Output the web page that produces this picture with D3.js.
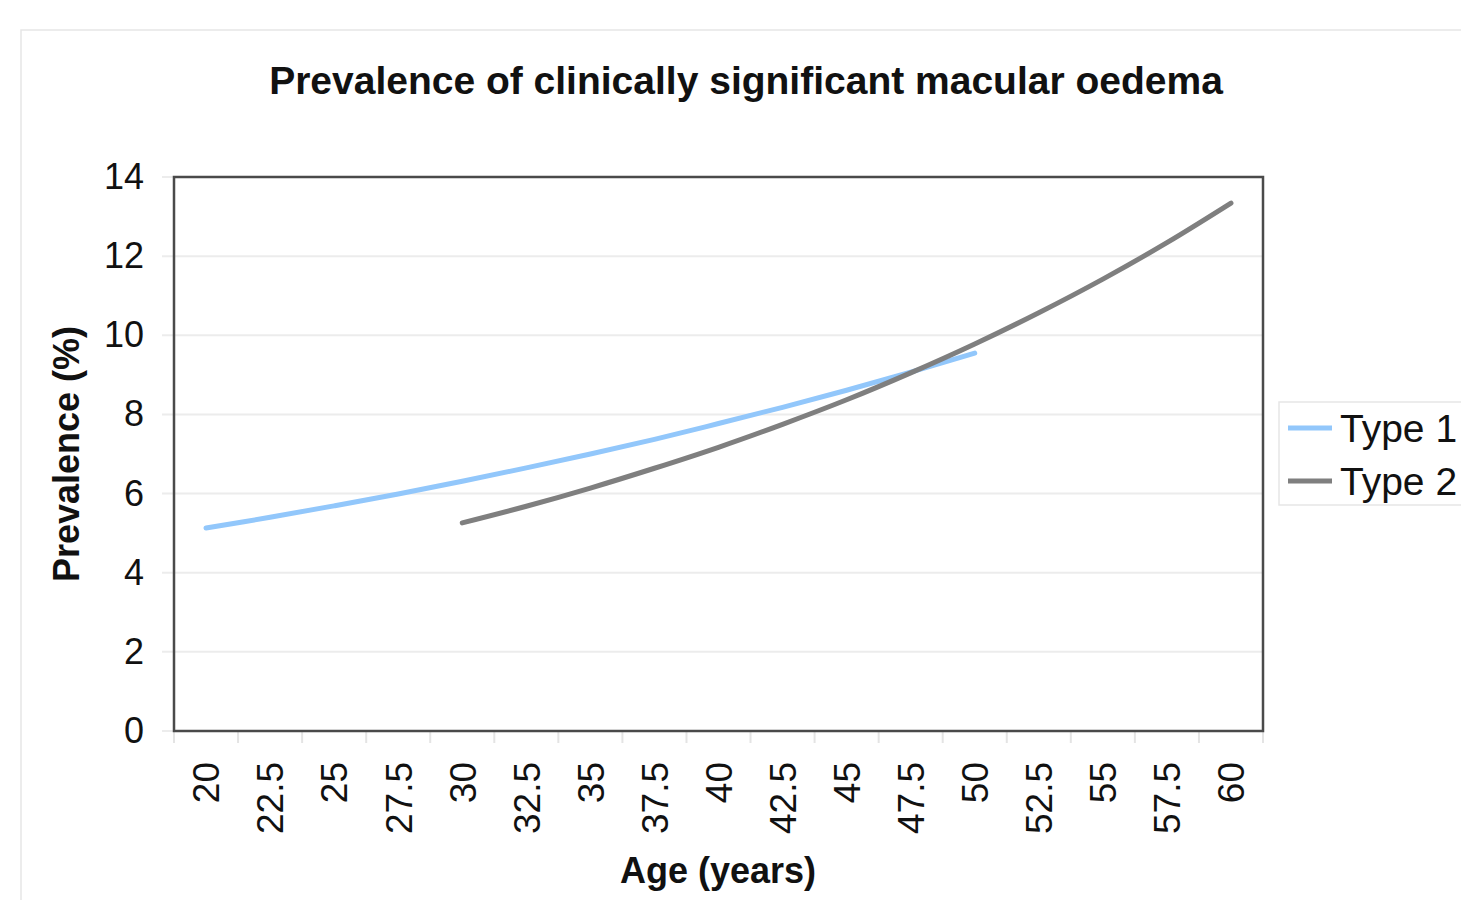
<!DOCTYPE html>
<html>
<head>
<meta charset="utf-8">
<script src="https://cdn.jsdelivr.net/npm/d3@7"></script>
<style>
  body { margin: 0; background: #fff; }
  text { font-family: "Liberation Sans", Arial, sans-serif; fill: #111; }
</style>
</head>
<body>
<svg id="chart" width="1461" height="900"></svg>
<script>
// Data
const ages = ["20", "22.5", "25", "27.5", "30", "32.5", "35", "37.5", "40", "42.5", "45", "47.5", "50", "52.5", "55", "57.5", "60"];
const type1Ages = ["20", "22.5", "25", "27.5", "30", "32.5", "35", "37.5", "40", "42.5", "45", "47.5", "50"];
const type1Values = [5.13, 5.4, 5.69, 5.99, 6.31, 6.65, 7.0, 7.37, 7.77, 8.18, 8.61, 9.07, 9.55];
const type2Ages = ["30", "32.5", "35", "37.5", "40", "42.5", "45", "47.5", "50", "52.5", "55", "57.5", "60"];
const type2Values = [5.26, 5.68, 6.14, 6.64, 7.17, 7.75, 8.37, 9.05, 9.78, 10.57, 11.42, 12.34, 13.34];
const yTicks = [0, 2, 4, 6, 8, 10, 12, 14];

const series = [
    { name: "Type 1", color: "#92c7fb", ages: type1Ages, values: type1Values },
    { name: "Type 2", color: "#7f7f7f", ages: type2Ages, values: type2Values }
];

const svg = d3.select("#chart");
const plot = { left: 174, right: 1263, top: 177, bottom: 731 };

// Outer chart frame
svg.append("rect")
    .attr("x", 21).attr("y", 30)
    .attr("width", 1450).attr("height", 880)
    .attr("fill", "none")
    .attr("stroke", "#e6e6e6")
    .attr("stroke-width", 1.5);

const x = d3.scaleBand().domain(ages).range([plot.left, plot.right]);
const y = d3.scaleLinear().domain([0, 14]).range([plot.bottom, plot.top]);

// Gridlines
svg.append("g")
    .selectAll("line")
    .data(yTicks)
    .enter().append("line")
    .attr("x1", plot.left - 12).attr("x2", plot.right)
    .attr("y1", d => y(d)).attr("y2", d => y(d))
    .attr("stroke", "#ececec")
    .attr("stroke-width", 2);

// Y axis labels
const yAxis = d3.axisLeft(y).tickValues(yTicks).tickSize(0).tickPadding(30);
svg.append("g")
    .attr("transform", `translate(${plot.left},0)`)
    .call(yAxis)
    .call(g => g.select(".domain").remove())
    .selectAll("text")
    .attr("font-size", 36)
    .attr("fill", "#111")
    .attr("font-family", "Liberation Sans, Arial, sans-serif");

// X axis category ticks (between categories)
const boundaries = ages.map(a => x(a)).concat([plot.right]);
svg.append("g")
    .selectAll("line")
    .data(boundaries)
    .enter().append("line")
    .attr("x1", d => d).attr("x2", d => d)
    .attr("y1", plot.bottom).attr("y2", plot.bottom + 12)
    .attr("stroke", "#e4e4e4")
    .attr("stroke-width", 2);

// X labels rotated
svg.append("g")
    .selectAll("text")
    .data(ages)
    .enter().append("text")
    .attr("transform", d => `translate(${x(d) + x.bandwidth() / 2},${plot.bottom + 31}) rotate(-90)`)
    .attr("text-anchor", "end")
    .attr("dy", "0.36em")
    .attr("font-size", 37)
    .text(d => d);

// Plot frame
svg.append("rect")
    .attr("x", plot.left).attr("y", plot.top)
    .attr("width", plot.right - plot.left).attr("height", plot.bottom - plot.top)
    .attr("fill", "none")
    .attr("stroke", "#4a4a4a")
    .attr("stroke-width", 2.5);

// Lines
const line = d3.line()
    .x(d => x(d[0]) + x.bandwidth() / 2)
    .y(d => y(d[1]))
    .curve(d3.curveCatmullRom);

svg.append("g")
    .selectAll("path")
    .data(series)
    .enter().append("path")
    .attr("d", s => line(s.ages.map((a, i) => [a, s.values[i]])))
    .attr("fill", "none")
    .attr("stroke", s => s.color)
    .attr("stroke-width", 5)
    .attr("stroke-linecap", "round");

// Title
svg.append("text")
    .attr("x", 746).attr("y", 94)
    .attr("text-anchor", "middle")
    .attr("font-size", 39)
    .attr("font-weight", "bold")
    .text("Prevalence of clinically significant macular oedema");

// Axis titles
svg.append("text")
    .attr("x", 718).attr("y", 883)
    .attr("text-anchor", "middle")
    .attr("font-size", 36)
    .attr("font-weight", "bold")
    .text("Age (years)");

svg.append("text")
    .attr("transform", "translate(79,454) rotate(-90)")
    .attr("text-anchor", "middle")
    .attr("font-size", 36)
    .attr("font-weight", "bold")
    .text("Prevalence (%)");

// Legend
const legend = svg.append("g");
legend.append("rect")
    .attr("x", 1279).attr("y", 402)
    .attr("width", 200).attr("height", 103)
    .attr("fill", "#fff")
    .attr("stroke", "#e6e6e6")
    .attr("stroke-width", 1.5);

const item = legend.selectAll("g")
    .data(series)
    .enter().append("g")
    .attr("transform", (d, i) => `translate(1288,${428 + i * 53})`);

item.append("line")
    .attr("x1", 0).attr("x2", 44)
    .attr("stroke", d => d.color)
    .attr("stroke-width", 5);

item.append("text")
    .attr("x", 52)
    .attr("dy", "0.36em")
    .attr("font-size", 39)
    .text(d => d.name);
</script>
</body>
</html>
